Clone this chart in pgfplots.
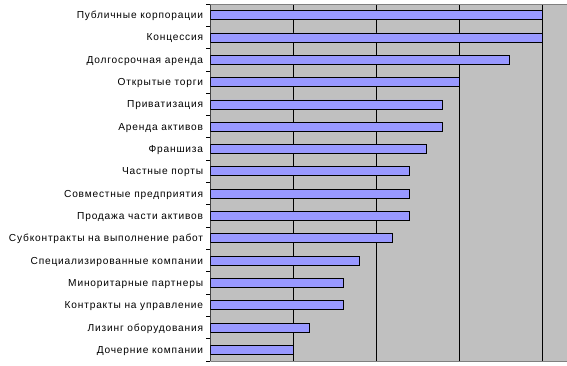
\documentclass[border=0pt]{standalone}
\usepackage{fontspec}
\setmainfont{Liberation Sans}
\newfontfamily\lblfont[LetterSpace=8]{Liberation Sans}
\usepackage{pgfplots}
\pgfplotsset{compat=1.18}
\usepackage{pgfplotstable}
\definecolor{barblue}{HTML}{9999FF}
\definecolor{bggray}{HTML}{C0C0C0}
\definecolor{framegray}{HTML}{808080}
\pgfplotstableread{
idx val
0 4.0
1 4.0
2 3.6
3 3.0
4 2.8
5 2.8
6 2.6
7 2.4
8 2.4
9 2.4
10 2.2
11 1.8
12 1.6
13 1.6
14 1.2
15 1.0
}\datatable
\begin{document}
\begin{tikzpicture}
\path[use as bounding box] (0,0) rectangle (567bp,366bp);
\begin{axis}[
 at={(210.3bp,5bp)}, anchor=south west,
 scale only axis, width=356.7bp, height=357bp,
 xmin=0, xmax=4.3, ymin=-0.5, ymax=15.5, y dir=reverse,
 xbar, bar width=9bp,
 axis background/.style={fill=bggray},
 axis line style={draw=none},
 xtick={1,2,3,4}, xticklabels={}, xtick style={draw=none},
 xmajorgrids, grid style={black, line width=0.8bp},
 ytick={-0.5,0.5,...,15.5}, yticklabels={},
 ytick pos=left, major tick length=4bp, tick align=outside,
 ytick style={black, line width=0.8bp},
 extra y ticks={0,1,...,15},
 extra y tick labels={Публичные корпорации,Концессия,Долгосрочная аренда,Открытые торги,Приватизация,Аренда активов,Франшиза,Частные порты,Совместные предприятия,Продажа части активов,Субконтракты на выполнение работ,Специализированные компании,Миноритарные партнеры,Контракты на управление,Лизинг оборудования,Дочерние компании},
 extra y tick style={tick style={draw=none}, yticklabel style={font=\lblfont\fontsize{10.2}{12}\selectfont, inner sep=0pt, xshift=-3bp, yshift=-1bp}},
]
\addplot[draw=black, fill=barblue, line width=0.8bp] table[x=val, y=idx] {\datatable};
\draw[black, line width=0.8bp] (rel axis cs:0,0) -- (rel axis cs:0,1);
\draw[framegray, line width=0.8bp] (rel axis cs:0,0) -- (rel axis cs:1,0);
\draw[framegray, line width=0.8bp] (rel axis cs:0,1) -- (rel axis cs:1,1);
\end{axis}
\end{tikzpicture}
\end{document}
